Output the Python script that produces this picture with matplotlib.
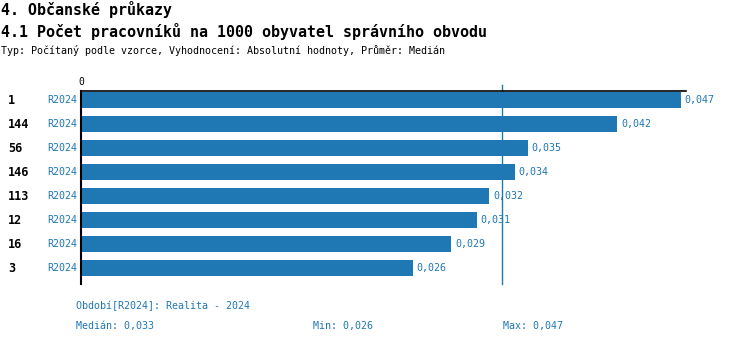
import matplotlib
matplotlib.use("Agg")
import matplotlib.pyplot as plt

# values per office, period R2024
offices = ["1", "144", "56", "146", "113", "12", "16", "3"]
periods = ["R2024"] * 8
values = [0.047, 0.042, 0.035, 0.034, 0.032, 0.031, 0.029, 0.026]
median_val = 0.033
min_val = 0.026
max_val = 0.047

blue = "#1f77b4"
mono = "DejaVu Sans Mono"

def cz(v):
    return f"{v:.3f}".replace(".", ",")

fig = plt.figure(figsize=(7.5, 3.44), dpi=100)
W, H = 750, 344
ax = fig.add_axes([81 / W, 1 - 284 / H, (686 - 81) / W, (284 - 91) / H])

y = list(range(len(values)))
ax.barh(y, values, height=0.64, color=blue)
ax.set_ylim(7.67, -0.375)
ax.set_xlim(0, 0.0474)

for i, v in enumerate(values):
    ax.text(v + 0.0003, i, cz(v), va="center", ha="left", color=blue,
            fontsize=7.2, family=mono)
    ax.text(-0.0003, i, periods[i], va="center", ha="right", color=blue,
            fontsize=7.2, family=mono)
    fig.text(8 / W, 1 - (100 + 24 * i) / H, offices[i], va="center", ha="left",
             fontsize=8.5, family=mono, fontweight="bold")

ax.axvline(median_val, ymin=0, ymax=1.03, color=blue, lw=1, clip_on=False)

for s in ["right", "bottom"]:
    ax.spines[s].set_visible(False)
ax.spines["left"].set_linewidth(1.5)
ax.spines["top"].set_linewidth(1.2)
ax.set_yticks([])
ax.xaxis.tick_top()
ax.set_xticks([0])
ax.set_xticklabels(["0"], family=mono, fontsize=7)
ax.tick_params(axis="x", length=0, pad=3)

fig.text(1 / W, 1 - 9 / H, "4. Občanské průkazy", va="center", ha="left",
         fontsize=10.8, family=mono, fontweight="bold")
fig.text(1 / W, 1 - 31 / H, "4.1 Počet pracovníků na 1000 obyvatel správního obvodu",
         va="center", ha="left", fontsize=10.8, family=mono, fontweight="bold")
fig.text(1 / W, 1 - 50 / H,
         "Typ: Počítaný podle vzorce, Vyhodnocení: Absolutní hodnoty, Průměr: Medián",
         va="center", ha="left", fontsize=7.2, family=mono)

fig.text(76 / W, 1 - 306 / H, "Období[R2024]: Realita - 2024", va="center",
         ha="left", fontsize=7.2, family=mono, color=blue)
fig.text(76 / W, 1 - 326 / H, "Medián: " + cz(median_val), va="center",
         ha="left", fontsize=7.2, family=mono, color=blue)
fig.text(313 / W, 1 - 326 / H, "Min: " + cz(min_val), va="center",
         ha="left", fontsize=7.2, family=mono, color=blue)
fig.text(503 / W, 1 - 326 / H, "Max: " + cz(max_val), va="center",
         ha="left", fontsize=7.2, family=mono, color=blue)

fig.savefig("out.png", dpi=100)
